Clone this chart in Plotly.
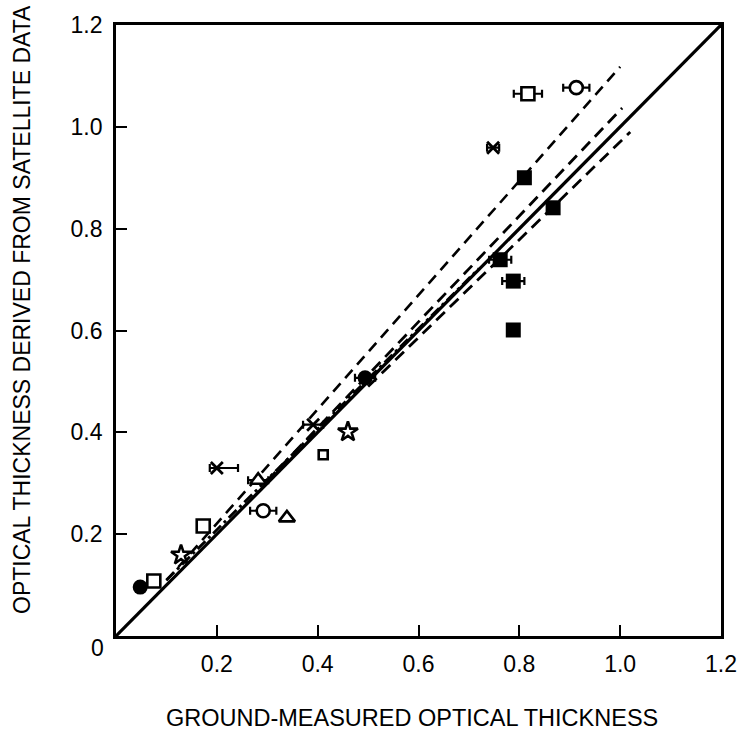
import plotly.graph_objects as go

# ---- data ----
filled_circle_x = [0.048, 0.494]
filled_circle_y = [0.096, 0.507]
filled_circle_err = [0.0, 0.02]

open_square_x = [0.075, 0.173, 0.817]
open_square_y = [0.108, 0.216, 1.065]
open_square_err = [0.0, 0.0, 0.028]

open_star_x = [0.129, 0.460]
open_star_y = [0.159, 0.401]

open_circle_x = [0.292, 0.913]
open_circle_y = [0.246, 1.077]
open_circle_err = [0.026, 0.026]

open_triangle_x = [0.282, 0.339]
open_triangle_y = [0.306, 0.232]
open_triangle_err = [0.02, 0.0]

cross_x = [0.200, 0.391, 0.748]
cross_y = [0.330, 0.415, 0.959]
cross_err_plus = [0.042, 0.02, 0.012]
cross_err_minus = [0.014, 0.02, 0.012]

small_square_x = [0.411]
small_square_y = [0.356]
small_square_err = [0.008]

filled_square_x = [0.810, 0.867, 0.762, 0.788, 0.788]
filled_square_y = [0.900, 0.841, 0.739, 0.697, 0.601]
filled_square_err = [0.0, 0.0, 0.022, 0.022, 0.0]

# reference 1:1 line and fitted lines (x-range and y at ends)
one_to_one_x = [0.0, 1.2]
one_to_one_y = [0.0, 1.2]
fit_a_x = [0.10, 1.00]
fit_a_y = [0.109, 1.118]
fit_b_x = [0.30, 1.004]
fit_b_y = [0.305, 1.037]
fit_c_x = [0.50, 1.02]
fit_c_y = [0.49, 0.99]
fit_d_x = [0.10, 0.72]
fit_d_y = [0.110, 0.722]

tick_vals = [0.2, 0.4, 0.6, 0.8, 1.0, 1.2]
tick_text = ["0.2", "0.4", "0.6", "0.8", "1.0", "1.2"]

x_title = "GROUND-MEASURED OPTICAL THICKNESS"
y_title = "OPTICAL THICKNESS DERIVED FROM SATELLITE DATA"

BLACK = "black"

fig = go.Figure()

# lines
fig.add_trace(go.Scatter(x=one_to_one_x, y=one_to_one_y, mode="lines",
                         line=dict(color=BLACK, width=3.2), hoverinfo="skip"))
fig.add_trace(go.Scatter(x=fit_a_x, y=fit_a_y, mode="lines",
                         line=dict(color=BLACK, width=2.6, dash="11px,7px")))
fig.add_trace(go.Scatter(x=fit_b_x, y=fit_b_y, mode="lines",
                         line=dict(color=BLACK, width=2.8, dash="12px,7px")))
fig.add_trace(go.Scatter(x=fit_c_x, y=fit_c_y, mode="lines",
                         line=dict(color=BLACK, width=2.8, dash="12px,7px")))
fig.add_trace(go.Scatter(x=fit_d_x, y=fit_d_y, mode="lines",
                         line=dict(color=BLACK, width=2.8, dash="11px,4px,3px,4px")))


def err(arr, minus=None):
    d = dict(type="data", array=arr, color=BLACK, thickness=2.2, width=4, visible=True)
    if minus is not None:
        d["symmetric"] = False
        d["arrayminus"] = minus
    return d


mk_line = dict(color=BLACK, width=2.6)

fig.add_trace(go.Scatter(x=filled_square_x, y=filled_square_y, mode="markers",
                         error_x=err(filled_square_err),
                         marker=dict(symbol="square", size=15, color=BLACK, line=dict(width=0))))
fig.add_trace(go.Scatter(x=filled_circle_x, y=filled_circle_y, mode="markers",
                         error_x=err(filled_circle_err),
                         marker=dict(symbol="circle", size=15, color=BLACK, line=dict(width=0))))
fig.add_trace(go.Scatter(x=open_square_x, y=open_square_y, mode="markers",
                         error_x=err(open_square_err),
                         marker=dict(symbol="square", size=13, color="white", line=mk_line)))
fig.add_trace(go.Scatter(x=open_star_x, y=open_star_y, mode="markers",
                         marker=dict(symbol="star", size=15, color="white", line=mk_line)))
fig.add_trace(go.Scatter(x=open_circle_x, y=open_circle_y, mode="markers",
                         error_x=err(open_circle_err),
                         marker=dict(symbol="circle", size=13, color="white", line=mk_line)))
fig.add_trace(go.Scatter(x=open_triangle_x, y=open_triangle_y, mode="markers",
                         error_x=err(open_triangle_err),
                         marker=dict(symbol="triangle-up", size=14, color="white", line=mk_line)))
fig.add_trace(go.Scatter(x=cross_x, y=cross_y, mode="markers",
                         error_x=err(cross_err_plus, cross_err_minus),
                         marker=dict(symbol="x-thin", size=12, color=BLACK,
                                     line=dict(color=BLACK, width=2.8))))
fig.add_trace(go.Scatter(x=small_square_x, y=small_square_y, mode="markers",
                         error_x=err(small_square_err),
                         marker=dict(symbol="square", size=9, color="white", line=mk_line)))

FONT = "Liberation Sans, Arial, Helvetica, sans-serif"

axis_common = dict(
    range=[0, 1.2], showline=True, linecolor=BLACK, linewidth=2.8, mirror=True,
    ticks="inside", ticklen=11, tickwidth=1.6, tickcolor=BLACK,
    tickvals=tick_vals, ticktext=tick_text, showgrid=False, zeroline=False,
    automargin=False,
    tickfont=dict(family=FONT, size=23, color=BLACK),
)

plot_w = 743 - 116 - 22
plot_h = 732 - 25 - 96

fig.update_layout(
    width=743, height=732,
    margin=dict(l=116, r=22, t=25, b=96),
    paper_bgcolor="white", plot_bgcolor="white",
    showlegend=False,
    font=dict(family=FONT, color=BLACK),
    xaxis=dict(**axis_common, ticklabelstandoff=5),
    yaxis=dict(**axis_common, ticklabelstandoff=6),
    annotations=[
        dict(text="0", x=(97 - 116) / plot_w, y=(636 - 648) / plot_h,
             xref="paper", yref="paper", showarrow=False,
             xanchor="center", yanchor="middle",
             font=dict(family=FONT, size=23, color=BLACK)),
        dict(text=x_title, x=(412 - 116) / plot_w, y=(636 - 718) / plot_h,
             xref="paper", yref="paper", showarrow=False,
             xanchor="center", yanchor="middle",
             font=dict(family=FONT, size=23.5, color=BLACK)),
        dict(text=y_title, x=(22 - 116) / plot_w, y=(636 - 310) / plot_h,
             xref="paper", yref="paper", showarrow=False,
             textangle=-90, xanchor="center", yanchor="middle",
             font=dict(family=FONT, size=23, color=BLACK)),
    ],
)

fig.write_html("out.html", config={"displayModeBar": False},
               post_script="document.body.style.margin='0';")
